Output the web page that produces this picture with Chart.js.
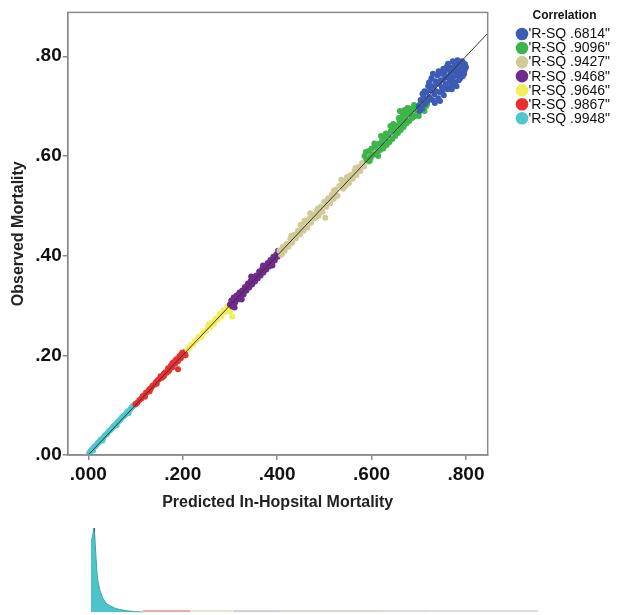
<!DOCTYPE html>
<html><head><meta charset="utf-8">
<script src="https://cdn.jsdelivr.net/npm/chart.js@4"></script>
<style>
html,body{margin:0;padding:0;background:#fff;}
#wrap{position:relative;width:619px;height:615px;overflow:hidden;background:#fff;}
#main{position:absolute;left:0;top:0;}
#hist{position:absolute;left:0;top:505px;}
</style></head><body>
<div id="wrap">
<canvas id="main" width="619" height="520"></canvas>
<canvas id="hist" width="619" height="110"></canvas>
</div>
<script>
// ---------- DATA ----------
const legendTitle = "Correlation";
const groupLabels = ["'R-SQ .6814\"", "'R-SQ .9096\"", "'R-SQ .9427\"", "'R-SQ .9468\"", "'R-SQ .9646\"", "'R-SQ .9867\"", "'R-SQ .9948\""];
const groupColors = ["#3b5bb5", "#3db54a", "#cfca96", "#6f2a8c", "#f2ee5a", "#e8302f", "#4fc6cc"];

const xTitle = "Predicted In-Hopsital Mortality";
const yTitle = "Observed Mortality";
const xTickVals = [0, 0.2, 0.4, 0.6, 0.8];
const xTickLabels = [".000", ".200", ".400", ".600", ".800"];
const yTickVals = [0, 0.2, 0.4, 0.6, 0.8];
const yTickLabels = [".00", ".20", ".40", ".60", ".80"];

const bluePts = [[0.700,0.700],[0.704,0.712],[0.707,0.695],[0.710,0.720],[0.713,0.704],[0.716,0.728],[0.718,0.710],[0.720,0.740],[0.722,0.718],[0.725,0.732],[0.727,0.756],[0.729,0.712],[0.731,0.740],[0.733,0.724],[0.735,0.750],[0.737,0.730],[0.739,0.762],[0.741,0.716],[0.743,0.745],[0.745,0.728],[0.747,0.765],[0.749,0.738],[0.751,0.752],[0.753,0.722],[0.755,0.770],[0.757,0.744],[0.759,0.758],[0.761,0.734],[0.763,0.775],[0.765,0.750],[0.767,0.765],[0.769,0.742],[0.771,0.778],[0.773,0.758],[0.775,0.770],[0.777,0.748],[0.779,0.782],[0.781,0.762],[0.783,0.776],[0.785,0.752],[0.787,0.784],[0.789,0.768],[0.791,0.778],[0.793,0.760],[0.795,0.786],[0.797,0.772],[0.800,0.778],[0.780,0.740],[0.760,0.780],[0.745,0.710],[0.770,0.734],[0.712,0.730],[0.722,0.748],[0.730,0.765],[0.734,0.706],[0.738,0.745],[0.742,0.770],[0.746,0.752],[0.750,0.730],[0.752,0.775],[0.756,0.760],[0.758,0.738],[0.762,0.785],[0.766,0.772],[0.768,0.756],[0.772,0.790],[0.774,0.746],[0.776,0.780],[0.782,0.792],[0.784,0.770],[0.788,0.756],[0.792,0.790],[0.796,0.765],[0.798,0.784],[0.702,0.690],[0.708,0.725]];
const greenPts = [[0.585,0.600],[0.590,0.592],[0.594,0.610],[0.598,0.598],[0.600,0.615],[0.604,0.603],[0.608,0.618],[0.612,0.606],[0.615,0.624],[0.618,0.612],[0.622,0.630],[0.625,0.615],[0.628,0.636],[0.632,0.622],[0.635,0.642],[0.638,0.628],[0.641,0.650],[0.644,0.634],[0.647,0.655],[0.650,0.640],[0.653,0.660],[0.656,0.646],[0.659,0.668],[0.662,0.652],[0.665,0.672],[0.668,0.658],[0.671,0.680],[0.674,0.665],[0.677,0.686],[0.680,0.670],[0.683,0.690],[0.686,0.676],[0.689,0.695],[0.692,0.680],[0.695,0.698],[0.698,0.686],[0.701,0.702],[0.704,0.692],[0.707,0.705],[0.710,0.695],[0.713,0.708],[0.716,0.700],[0.660,0.690],[0.670,0.692],[0.680,0.695],[0.700,0.680],[0.640,0.660],[0.620,0.640],[0.588,0.608],[0.596,0.590],[0.606,0.625],[0.614,0.600],[0.624,0.622],[0.630,0.645],[0.636,0.628],[0.646,0.664],[0.652,0.648],[0.658,0.676],[0.664,0.660],[0.672,0.670],[0.676,0.696],[0.684,0.682],[0.690,0.702],[0.696,0.690],[0.705,0.710],[0.712,0.690],[0.718,0.704],[0.666,0.684]];
const tanPts = [[0.405,0.410],[0.408,0.402],[0.412,0.418],[0.416,0.410],[0.420,0.424],[0.424,0.418],[0.428,0.433],[0.432,0.426],[0.436,0.442],[0.440,0.435],[0.444,0.450],[0.448,0.443],[0.452,0.458],[0.456,0.450],[0.460,0.466],[0.464,0.457],[0.468,0.474],[0.472,0.466],[0.476,0.482],[0.480,0.475],[0.484,0.490],[0.488,0.480],[0.492,0.498],[0.496,0.488],[0.500,0.508],[0.502,0.476],[0.504,0.498],[0.508,0.515],[0.512,0.505],[0.516,0.522],[0.520,0.514],[0.524,0.532],[0.528,0.520],[0.532,0.540],[0.536,0.552],[0.540,0.534],[0.544,0.550],[0.548,0.558],[0.552,0.545],[0.556,0.562],[0.560,0.554],[0.564,0.570],[0.568,0.562],[0.572,0.578],[0.576,0.570],[0.580,0.586],[0.584,0.579],[0.588,0.594],[0.592,0.588],[0.596,0.602],[0.600,0.596],[0.604,0.610],[0.608,0.603],[0.612,0.604],[0.470,0.485],[0.520,0.530],[0.450,0.462],[0.430,0.440],[0.458,0.470],[0.486,0.494],[0.514,0.512],[0.540,0.546],[0.566,0.576],[0.590,0.600],[0.410,0.404],[0.545,0.540]];
const purplePts = [[0.300,0.302],[0.303,0.310],[0.305,0.298],[0.308,0.316],[0.311,0.306],[0.314,0.320],[0.317,0.312],[0.320,0.326],[0.323,0.318],[0.326,0.330],[0.329,0.322],[0.332,0.337],[0.335,0.330],[0.338,0.344],[0.341,0.336],[0.344,0.349],[0.347,0.342],[0.350,0.356],[0.353,0.348],[0.356,0.360],[0.359,0.354],[0.362,0.368],[0.365,0.360],[0.368,0.372],[0.371,0.366],[0.374,0.379],[0.377,0.372],[0.380,0.385],[0.383,0.378],[0.386,0.391],[0.389,0.386],[0.392,0.398],[0.395,0.390],[0.398,0.402],[0.401,0.398],[0.404,0.407],[0.310,0.296],[0.325,0.312],[0.345,0.358],[0.370,0.380],[0.390,0.380],[0.402,0.410]];
const yellowPts = [[0.210,0.212],[0.214,0.215],[0.218,0.221],[0.222,0.221],[0.226,0.229],[0.230,0.231],[0.234,0.237],[0.238,0.236],[0.242,0.245],[0.246,0.248],[0.250,0.249],[0.254,0.258],[0.258,0.257],[0.262,0.266],[0.266,0.263],[0.270,0.274],[0.274,0.272],[0.278,0.283],[0.282,0.279],[0.286,0.290],[0.290,0.287],[0.294,0.298],[0.298,0.296],[0.300,0.288],[0.305,0.278],[0.255,0.262],[0.240,0.238],[0.268,0.270]];
const redPts = [[0.100,0.102],[0.104,0.105],[0.108,0.110],[0.112,0.113],[0.115,0.118],[0.119,0.120],[0.122,0.125],[0.126,0.127],[0.129,0.132],[0.133,0.134],[0.136,0.139],[0.140,0.141],[0.143,0.146],[0.147,0.150],[0.150,0.152],[0.153,0.158],[0.156,0.155],[0.160,0.163],[0.163,0.166],[0.166,0.165],[0.169,0.174],[0.172,0.171],[0.175,0.179],[0.178,0.176],[0.181,0.186],[0.184,0.183],[0.187,0.192],[0.190,0.188],[0.193,0.198],[0.196,0.194],[0.199,0.205],[0.202,0.200],[0.205,0.207],[0.170,0.168],[0.160,0.158],[0.145,0.143],[0.130,0.128],[0.120,0.117],[0.185,0.190],[0.178,0.184],[0.197,0.202],[0.206,0.200],[0.190,0.172]];
const cyanPts = [[0.002,0.004],[0.005,0.008],[0.008,0.011],[0.011,0.014],[0.014,0.017],[0.017,0.020],[0.020,0.024],[0.023,0.026],[0.026,0.030],[0.029,0.032],[0.032,0.035],[0.035,0.039],[0.038,0.041],[0.041,0.044],[0.044,0.048],[0.047,0.050],[0.050,0.053],[0.053,0.057],[0.056,0.059],[0.059,0.062],[0.062,0.066],[0.065,0.068],[0.068,0.071],[0.071,0.075],[0.074,0.077],[0.077,0.080],[0.080,0.083],[0.083,0.087],[0.086,0.089],[0.089,0.092],[0.092,0.096],[0.095,0.099],[0.098,0.101],[0.010,0.009],[0.030,0.029],[0.060,0.060],[0.085,0.084],[0.100,0.103]];
const groupPoints = [bluePts, greenPts, tanPts, purplePts, yellowPts, redPts, cyanPts];

const fitLine = [[0, 0], [0.85, 0.85]];

// marginal distribution (bottom)
const histX    = [0, 0.002, 0.004, 0.006, 0.008, 0.011, 0.013, 0.015, 0.019, 0.025, 0.032, 0.040, 0.051, 0.061, 0.076, 0.093, 0.110];
const histCyan = [0.86, 0.88, 0.92, 1.0, 0.90, 0.62, 0.45, 0.36, 0.26, 0.17, 0.11, 0.08, 0.05, 0.035, 0.02, 0.01, 0.005];
const stripStarts = [0.72, 0.61, 0.405, 0.30, 0.21, 0.11];
const stripEnds   = [0.947, 0.72, 0.61, 0.405, 0.30, 0.21];
const stripHeight = [0.03, 0.03, 0.03, 0.03, 0.03, 0.03];
const stripColors = ["rgba(200,200,205,0.6)", "rgba(190,200,185,0.6)", "rgba(205,200,180,0.7)", "rgba(190,175,190,0.6)", "rgba(215,210,175,0.6)", "rgba(215,120,110,0.6)"];
const spikeX = [0.007, 0.007];
const spikeY = [1.0, 0.45];

// ---------- CHART ----------
const FONT = "'Liberation Sans', Arial, Helvetica, sans-serif";
const toXY = arr => arr.map(p => ({x: p[0], y: p[1]}));

const frameLegend = {
  id: 'frameLegend',
  afterDraw(chart) {
    const {ctx, chartArea: a} = chart;
    ctx.save();
    ctx.strokeStyle = '#8a8a8a';
    ctx.lineWidth = 1.5;
    ctx.strokeRect(a.left, a.top, a.right - a.left, a.bottom - a.top);
    // legend
    ctx.fillStyle = '#111';
    ctx.font = "bold 12px " + FONT;
    ctx.textAlign = 'center';
    ctx.textBaseline = 'middle';
    ctx.fillText(legendTitle, 564.5, 16);
    ctx.font = "14px " + FONT;
    ctx.textAlign = 'left';
    groupLabels.forEach((lab, i) => {
      const cy = 34 + i * 14.05;
      ctx.beginPath();
      ctx.fillStyle = groupColors[i];
      ctx.arc(522, cy, 6.3, 0, Math.PI * 2);
      ctx.fill();
      ctx.fillStyle = '#111';
      ctx.fillText(lab, 528.5, cy + 0.5);
    });
    ctx.restore();
  }
};

const datasets = groupPoints.map((pts, i) => ({
  type: 'scatter',
  label: groupLabels[i],
  data: toXY(pts),
  backgroundColor: groupColors[i],
  borderWidth: 0,
  pointRadius: 3,
  order: 1
}));
datasets.push({
  type: 'line',
  label: 'fit',
  data: toXY(fitLine),
  borderColor: '#333',
  borderWidth: 1,
  pointRadius: 0,
  fill: false,
  order: 0
});

function tickLabelFor(vals, labels) {
  return function(value) {
    for (let i = 0; i < vals.length; i++) if (Math.abs(vals[i] - value) < 1e-6) return labels[i];
    return '';
  };
}

new Chart(document.getElementById('main'), {
  data: {datasets},
  options: {
    responsive: false,
    animation: false,
    devicePixelRatio: 1,
    layout: {padding: {left: 0, right: 131.3, top: 11, bottom: 0}},
    plugins: {legend: {display: false}, tooltip: {enabled: false}},
    scales: {
      x: {
        type: 'linear', min: -0.0436, max: 0.846,
        afterBuildTicks: s => { s.ticks = xTickVals.map(v => ({value: v})); },
        afterFit: s => { s.height = 65; },
        ticks: {callback: tickLabelFor(xTickVals, xTickLabels), font: {family: FONT, size: 19, weight: 'bold'}, color: '#111', padding: 3, maxRotation: 0, autoSkip: false},
        grid: {display: true, drawOnChartArea: false, drawTicks: true, tickLength: 5, color: '#8a8a8a', lineWidth: 1.5},
        border: {display: true, color: '#8a8a8a', width: 1.5},
        title: {display: true, text: xTitle, font: {family: FONT, size: 16, weight: 'bold'}, color: '#222', padding: {top: 0, bottom: 7.4}}
      },
      y: {
        type: 'linear', min: 0, max: 0.888,
        afterBuildTicks: s => { s.ticks = yTickVals.map(v => ({value: v})); },
        afterFit: s => { s.width = 67.7; },
        ticks: {callback: tickLabelFor(yTickVals, yTickLabels), font: {family: FONT, size: 19, weight: 'bold'}, color: '#111', padding: 1, autoSkip: false},
        grid: {display: true, drawOnChartArea: false, drawTicks: true, tickLength: 5, color: '#8a8a8a', lineWidth: 1.5},
        border: {display: true, color: '#8a8a8a', width: 1.5},
        title: {display: true, text: yTitle, font: {family: FONT, size: 16, weight: 'bold'}, color: '#222', padding: {top: 9.4, bottom: 0}}
      }
    }
  },
  plugins: [frameLegend]
});

const histSets = [];
stripStarts.forEach((s, i) => {
  histSets.push({
    data: [{x: s, y: stripHeight[i]}, {x: stripEnds[i], y: stripHeight[i]}],
    fill: 'origin', backgroundColor: stripColors[i], borderWidth: 0, pointRadius: 0
  });
});
histSets.push({
  data: histX.map((x, i) => ({x, y: histCyan[i]})),
  fill: 'origin', backgroundColor: '#4cc4ca', borderColor: '#3aa9b0', borderWidth: 1, pointRadius: 0, tension: 0
});
histSets.push({
  data: spikeX.map((x, i) => ({x, y: spikeY[i]})),
  fill: false, borderColor: '#222', borderWidth: 1.5, pointRadius: 0
});

new Chart(document.getElementById('hist'), {
  type: 'line',
  data: {datasets: histSets},
  options: {
    responsive: false,
    animation: false,
    devicePixelRatio: 1,
    layout: {padding: {left: 91, right: 81, top: 23, bottom: 2.5}},
    plugins: {legend: {display: false}, tooltip: {enabled: false}},
    scales: {
      x: {type: 'linear', display: false, min: 0, max: 0.947},
      y: {display: false, min: 0, max: 1}
    }
  }
});
</script>
</body></html>
